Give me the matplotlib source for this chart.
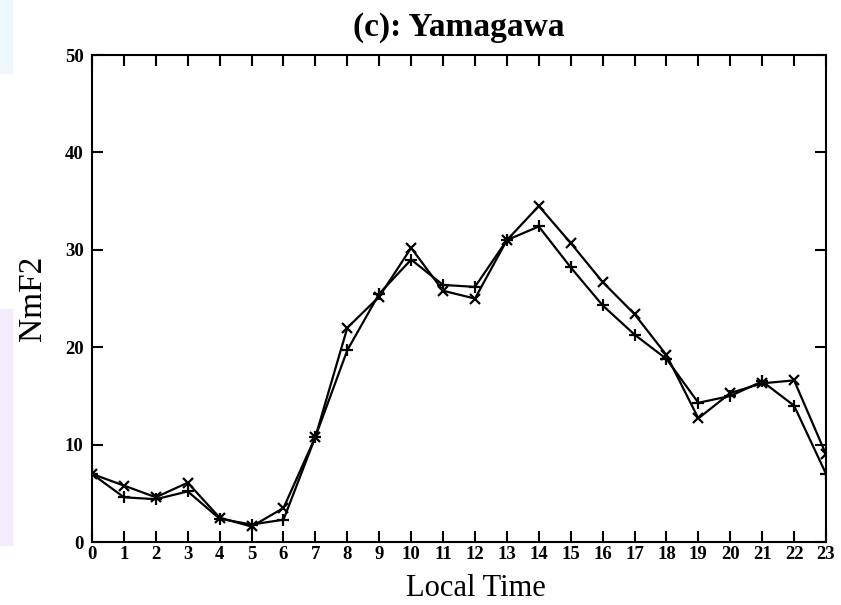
import matplotlib
matplotlib.use("Agg")
import matplotlib.pyplot as plt
from matplotlib.patches import Rectangle

hours = list(range(24))
tick_labels = [str(h) for h in hours]
nmf2_a = [7.0, 5.8, 4.6, 6.1, 2.5, 1.6, 3.5, 10.8, 22.0, 25.2, 30.2, 25.8,
          25.0, 31.0, 34.5, 30.7, 26.7, 23.4, 19.2, 12.7, 15.3, 16.3, 16.6, 9.0]
nmf2_b = [7.0, 4.6, 4.4, 5.2, 2.4, 1.8, 2.3, 10.8, 19.7, 25.5, 29.0, 26.4,
          26.2, 31.0, 32.4, 28.2, 24.3, 21.3, 18.8, 14.3, 15.0, 16.5, 14.0, 7.0]

plt.rcParams["font.family"] = ["Liberation Serif", "DejaVu Serif"]

fig = plt.figure(figsize=(8.41, 6.05), dpi=100)
# faint tint along the left edge of the page
fig.patches.append(Rectangle((0, 0.1), 0.014, 0.39, transform=fig.transFigure,
                             color="#f4ecfb", zorder=0))
fig.patches.append(Rectangle((0, 0.88), 0.014, 0.12, transform=fig.transFigure,
                             color="#eef6fe", zorder=0))

ax = fig.add_axes([0.1094, 0.104, 0.8728, 0.805])

ax.plot(hours, nmf2_a, color="black", lw=1.6, marker="x", ms=7, mew=1.6)
ax.plot(hours, nmf2_b, color="black", lw=1.6, marker="+", ms=8, mew=1.6)

ax.set_xlim(0, 23)
ax.set_ylim(0, 50)
ax.set_xticks(hours)
ax.set_xticklabels(tick_labels)
ax.set_yticks([0, 10, 20, 30, 40, 50])

for s in ax.spines.values():
    s.set_linewidth(1.5)
ax.tick_params(direction="in", length=8, width=1.5, top=True, right=True,
               labelsize=13.5, pad=3)
ax.tick_params(axis="y", pad=6)
for lab in ax.get_xticklabels() + ax.get_yticklabels():
    lab.set_fontweight("bold")

ax.set_title("(c): Yamagawa", fontsize=24, fontweight="bold", pad=14)
ax.set_xlabel("Local Time", fontsize=22)
ax.xaxis.set_label_coords(0.523, -0.066)
ax.xaxis.label.set_verticalalignment("top")
ax.set_ylabel("NmF2", fontsize=24, labelpad=12)

fig.savefig("out.png", dpi=100)
